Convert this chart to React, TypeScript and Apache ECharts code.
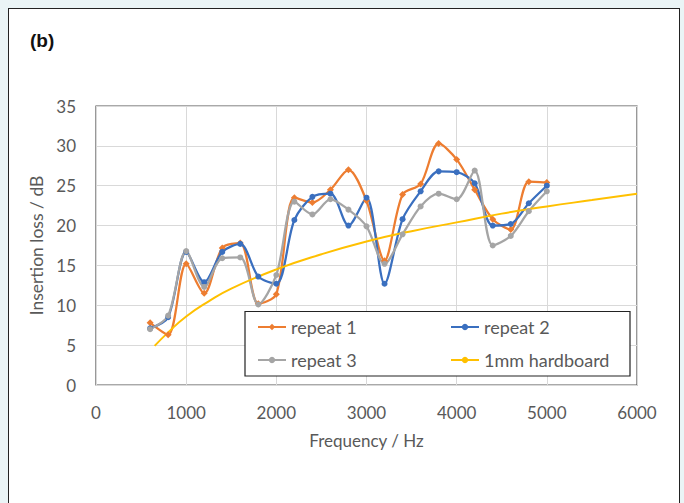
import React, { useEffect, useRef } from "react";
import * as echarts from "echarts";

const frequencies = [600, 800, 1000, 1200, 1400, 1600, 1800, 2000, 2200, 2400, 2600, 2800, 3000, 3200, 3400, 3600, 3800, 4000, 4200, 4400, 4600, 4800, 5000];
const repeat1 = [7.8, 6.3, 15.2, 11.5, 17.2, 17.8, 10.2, 11.4, 23.5, 22.9, 24.5, 27.0, 23.1, 15.6, 23.9, 25.2, 30.3, 28.3, 24.5, 20.8, 19.5, 25.5, 25.4];
const repeat2 = [7.1, 8.5, 16.7, 12.9, 16.7, 17.7, 13.6, 12.7, 20.7, 23.6, 24.0, 20.0, 23.5, 12.7, 20.8, 24.3, 26.8, 26.7, 25.3, 20.0, 20.2, 22.8, 25.0];
const repeat3 = [7.0, 8.7, 16.8, 12.3, 15.9, 16.0, 10.1, 13.8, 23.0, 21.4, 23.3, 22.0, 19.9, 15.2, 18.9, 22.4, 24.0, 23.3, 26.9, 17.5, 18.7, 21.8, 24.3];
const hardboardFreq = [650, 800, 1000, 1250, 1500, 2000, 2500, 3000, 3500, 4000, 4500, 5000, 5500, 6000];
const hardboardVal = [4.9, 6.6, 8.6, 10.5, 12.1, 14.5, 16.4, 18.0, 19.3, 20.4, 21.5, 22.4, 23.2, 24.0];
const seriesNames = ["repeat 1", "repeat 2", "repeat 3", "1mm hardboard"];

const FONT = "Lato, 'Open Sans', sans-serif";
const TXT = "#595959";

export default function App() {
  const ref = useRef<HTMLDivElement>(null);
  useEffect(() => {
    const chart = echarts.init(ref.current!, null, { renderer: "svg" });
    const pair = (xs: number[], ys: number[]) => xs.map((x, i) => [x, ys[i]]);
    const legendBase = {
      orient: "horizontal",
      itemWidth: 28,
      itemHeight: 8,
      padding: 0,
      z: 10,
      textStyle: { fontSize: 18, color: TXT, fontFamily: FONT, lineHeight: 20 },
    };
    chart.setOption({
      animation: false,
      backgroundColor: "transparent",
      graphic: [
        {
          type: "text",
          left: 30,
          top: 31,
          style: { text: "(b)", font: "bold 19px 'Liberation Sans', Arial, sans-serif", fill: "#111" },
        },
        {
          type: "rect",
          z: 3,
          shape: { x: 245, y: 311.5, width: 385, height: 64.5 },
          style: { fill: "#fff", stroke: "#222", lineWidth: 1.2 },
        },
      ],
      grid: {
        left: 96,
        right: 47,
        top: 106,
        bottom: 118,
        show: true,
        borderColor: "#555",
        borderWidth: 1.2,
        backgroundColor: "transparent",
      },
      legend: [
        { ...legendBase, data: [seriesNames[0]], left: 257, top: 317 },
        { ...legendBase, data: [seriesNames[1]], left: 450, top: 317 },
        { ...legendBase, data: [seriesNames[2]], left: 257, top: 350 },
        { ...legendBase, data: [seriesNames[3]], left: 450, top: 350 },
      ],
      xAxis: {
        type: "value",
        min: 0,
        max: 6000,
        interval: 1000,
        name: "Frequency / Hz",
        nameLocation: "middle",
        nameGap: 47,
        nameTextStyle: { fontSize: 17, color: TXT, fontFamily: FONT },
        axisLine: { show: false },
        axisTick: { show: false },
        axisLabel: { margin: 19, fontSize: 17, color: TXT, fontFamily: FONT, formatter: (v: number) => String(v) },
        splitLine: { show: true, lineStyle: { color: "#d9d9d9", width: 1 } },
      },
      yAxis: {
        type: "value",
        min: 0,
        max: 35,
        interval: 5,
        name: "Insertion loss / dB",
        nameLocation: "middle",
        nameGap: 47,
        nameTextStyle: { fontSize: 17.5, color: TXT, fontFamily: FONT },
        axisLine: { show: false },
        axisTick: { show: false },
        axisLabel: { margin: 20, fontSize: 17, color: TXT, fontFamily: FONT },
        splitLine: { show: true, lineStyle: { color: "#d9d9d9", width: 1 } },
      },
      series: [
        {
          name: seriesNames[0],
          type: "line",
          data: pair(frequencies, repeat1),
          smooth: 0.3,
          symbol: "diamond",
          symbolSize: 7,
          color: "#ED7D31",
          lineStyle: { width: 2.25, color: "#ED7D31" },
          itemStyle: { color: "#ED7D31" },
        },
        {
          name: seriesNames[1],
          type: "line",
          data: pair(frequencies, repeat2),
          smooth: 0.3,
          symbol: "circle",
          symbolSize: 6,
          color: "#3A6FBF",
          lineStyle: { width: 2.25, color: "#3A6FBF" },
          itemStyle: { color: "#3A6FBF" },
        },
        {
          name: seriesNames[2],
          type: "line",
          data: pair(frequencies, repeat3),
          smooth: 0.3,
          symbol: "circle",
          symbolSize: 6,
          color: "#A5A5A5",
          lineStyle: { width: 2.25, color: "#A5A5A5" },
          itemStyle: { color: "#A5A5A5" },
        },
        {
          name: seriesNames[3],
          type: "line",
          data: pair(hardboardFreq, hardboardVal),
          smooth: 0.5,
          symbol: "none",
          showSymbol: false,
          color: "#FFC000",
          lineStyle: { width: 2, color: "#FFC000" },
        },
      ],
    });
    return () => chart.dispose();
  }, []);
  return (
    <div style={{ position: "fixed", left: 0, top: 0, width: 684, height: 503, background: "#eaf4f6", overflow: "hidden" }}>
      <div
        style={{
          position: "absolute",
          left: 8,
          top: 8,
          width: 672,
          height: 540,
          boxSizing: "border-box",
          border: "1.5px solid #222",
          background: "#fff",
        }}
      />
      <div ref={ref} style={{ position: "absolute", left: 0, top: 0, width: 684, height: 503 }} />
    </div>
  );
}
